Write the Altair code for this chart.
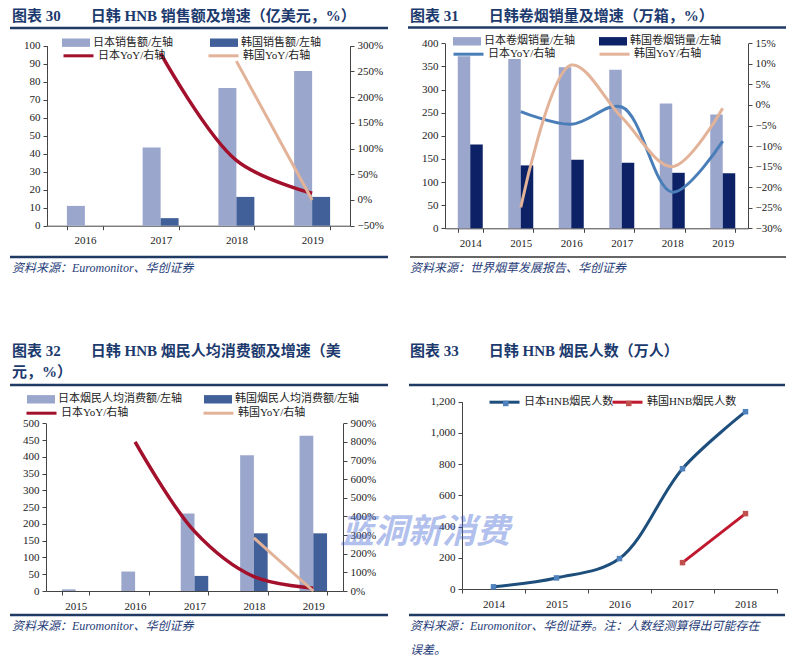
import altair as alt
import pandas as pd

# ---------------- data ----------------
# Figure 30: HNB sales (100m USD) and YoY
p1_years = ["2016", "2017", "2018", "2019"]
p1_jp_sales = [11.0, 43.5, 76.5, 86.0]
p1_kr_sales = [None, 4.2, 16.0, 16.0]
p1_jp_yoy = [None, 2.85, 0.77, 0.13]
p1_kr_yoy = [None, None, 2.70, 0.00]
p1_left_ticks = [0, 10, 20, 30, 40, 50, 60, 70, 80, 90, 100]
p1_right_ticks = [-0.5, 0.0, 0.5, 1.0, 1.5, 2.0, 2.5, 3.0]
p1_labels = ["日本销售额/左轴", "韩国销售额/左轴", "日本YoY/右轴", "韩国YoY/右轴"]

# Figure 31: cigarette volume (10k cases) and YoY
p2_years = ["2014", "2015", "2016", "2017", "2018", "2019"]
p2_jp_vol = [372, 366, 348, 343, 270, 246]
p2_kr_vol = [181, 136, 148, 142, 120, 119]
p2_jp_yoy = [None, -0.016, -0.047, -0.005, -0.212, -0.088]
p2_kr_yoy = [None, -0.249, 0.097, -0.030, -0.150, -0.008]
p2_left_ticks = [0, 50, 100, 150, 200, 250, 300, 350, 400]
p2_right_ticks = [-0.30, -0.25, -0.20, -0.15, -0.10, -0.05, 0.0, 0.05, 0.10, 0.15]
p2_labels = ["日本卷烟销量/左轴", "韩国卷烟销量/左轴", "日本YoY/右轴", "韩国YoY/右轴"]

# Figure 32: HNB spend per user (USD) and YoY
p3_years = ["2015", "2016", "2017", "2018", "2019"]
p3_jp_pc = [5, 58, 231, 405, 463]
p3_kr_pc = [None, None, 45, 172, 172]
p3_jp_yoy = [None, 8.0, 3.2, 0.77, 0.15]
p3_kr_yoy = [None, None, None, 2.85, 0.0]
p3_left_ticks = [0, 50, 100, 150, 200, 250, 300, 350, 400, 450, 500]
p3_right_ticks = [0, 1, 2, 3, 4, 5, 6, 7, 8, 9]
p3_labels = ["日本烟民人均消费额/左轴", "韩国烟民人均消费额/左轴", "日本YoY/右轴", "韩国YoY/右轴"]

# Figure 33: HNB users (10k people)
p4_years = ["2014", "2015", "2016", "2017", "2018"]
p4_jp_users = [14, 71, 195, 771, 1136]
p4_kr_users = [None, None, None, 169, 483]
p4_left_ticks = [0, 200, 400, 600, 800, 1000, 1200]
p4_labels = ["日本HNB烟民人数", "韩国HNB烟民人数"]

titles = [
    "图表 30\u3000\u3000日韩 HNB 销售额及增速（亿美元，%）",
    "图表 31\u3000\u3000日韩卷烟销量及增速（万箱，%）",
    "图表 32\u3000\u3000日韩 HNB 烟民人均消费额及增速（美\n元，%）",
    "图表 33\u3000\u3000日韩 HNB 烟民人数（万人）",
]
sources = [
    "资料来源：Euromonitor、华创证券",
    "资料来源：世界烟草发展报告、华创证券",
    "资料来源：Euromonitor、华创证券",
    "资料来源：Euromonitor、华创证券。注：人数经测算得出可能存在\n误差。",
]
watermark = "蓝洞新消费"

# ---------------- styling / layout ----------------
W, H = 778, 648
FONT = "Liberation Serif, Noto Sans CJK SC"
CJK = "Noto Sans CJK SC"
TITLE_COLOR = "#1c3a6e"
RULE_COLOR = "#1f3b64"
BAR_LIGHT = "#9ba6cd"
BAR_MID = "#41609a"
BAR_DARK = "#0c2166"
RED = "#a2102c"
TAN = "#e2b398"
STEEL = "#4a7eb8"


def frame(years, values, label, country):
    rows = [{"year": y, "value": v, "label": label, "country": country}
            for y, v in zip(years, values) if v is not None]
    return pd.DataFrame(rows)


def legend(x, cy, symbol, size, sw=0.0, hide_label=False):
    side = size ** 0.5
    kw = dict(orient="none", legendX=x, legendY=cy - side / 2, title=None,
              padding=0, symbolType=symbol, symbolSize=size,
              symbolStrokeWidth=sw, labelFont=FONT, labelFontSize=11,
              labelColor="#222222", labelOffset=3, labelLimit=400)
    if hide_label:
        kw["labelExpr"] = "''"
    return alt.Legend(**kw)


RECT = "M-1,-0.3H1V0.3H-1Z"


def x_axis(off):
    return alt.Axis(orient="bottom", offset=off, tickBand="extent", tickSize=4,
                    labelPadding=5, labelAngle=0, grid=False, title=None,
                    labelFont=FONT, labelFontSize=11, labelColor="#222222",
                    domainColor="#444444", tickColor="#444444")


def y_axis(orient, off, ticks, fmt):
    return alt.Axis(orient=orient, offset=off, values=ticks, format=fmt, tickSize=4,
                    labelPadding=3, grid=False, title=None, labelFont=FONT,
                    labelFontSize=11, labelColor="#222222",
                    domainColor="#444444", tickColor="#444444")


def dual_panel(years, jp_bar, kr_bar, jp_line, kr_line, labels, bar_colors, line_colors,
               left_dom, left_ticks, right_dom, right_ticks, right_fmt, g):
    xs = alt.Scale(type="band", domain=years, range=g["xr"], paddingInner=g["pi"],
                   paddingOuter=g["pi"] / 2)
    ysl = alt.Scale(domain=left_dom, range=g["yr"], nice=False, zero=False)
    ysr = alt.Scale(domain=right_dom, range=g["yr"], nice=False, zero=False)
    xo = alt.XOffset("country:N", scale=alt.Scale(domain=["JP", "KR"]))
    xax = x_axis(g["xoff"])
    lax = y_axis("left", g["loff"], left_ticks, ",.0f")
    rax = y_axis("right", g["roff"], right_ticks, right_fmt)

    bars = []
    for i, (vals, ctry) in enumerate([(jp_bar, "JP"), (kr_bar, "KR")]):
        bars.append(
            alt.Chart(frame(years, vals, labels[i], ctry)).mark_bar().encode(
                x=alt.X("year:N", scale=xs, axis=xax),
                xOffset=xo,
                y=alt.Y("value:Q", scale=ysl, axis=lax),
                fill=alt.Fill("label:N", scale=alt.Scale(domain=[labels[i]], range=[bar_colors[i]]),
                              legend=legend(g["leg"][i][0], g["leg"][i][1], RECT, 784)),
            )
        )
    lines = []
    for i, (vals, ctry) in enumerate([(jp_line, "JP"), (kr_line, "KR")]):
        lab = labels[2 + i]
        lines.append(
            alt.Chart(frame(years, vals, lab, ctry)).mark_line(
                interpolate=g["interp"][i], strokeWidth=g["lw"][i]).encode(
                x=alt.X("year:N", scale=xs, axis=xax),
                y=alt.Y("value:Q", scale=ysr, axis=rax),
                stroke=alt.Stroke("label:N", scale=alt.Scale(domain=[lab], range=[line_colors[i]]),
                                  legend=legend(g["leg"][2 + i][0], g["leg"][2 + i][1], "stroke", 900, 3)),
            )
        )
    bar_layer = alt.layer(*bars).resolve_scale(fill="independent")
    line_layer = alt.layer(*lines).resolve_scale(stroke="independent")
    return alt.layer(bar_layer, line_layer).resolve_scale(y="independent")


p1 = dual_panel(
    p1_years, p1_jp_sales, p1_kr_sales, p1_jp_yoy, p1_kr_yoy, p1_labels,
    [BAR_LIGHT, BAR_MID], [RED, TAN], [0, 100], p1_left_ticks, [-0.5, 3.0], p1_right_ticks, ".0%",
    dict(xr=[39, 342], yr=[217.7, 37.7], pi=0.525, xoff=-(H - 217.7), loff=-39, roff=-(W - 342),
         interp=["catmull-rom", "linear"], lw=[3.5, 3],
         leg=[(54, 34.7), (202, 34.7), (54, 46.3), (199, 46.3)]))

p2 = dual_panel(
    p2_years, p2_jp_vol, p2_kr_vol, p2_jp_yoy, p2_kr_yoy, p2_labels,
    [BAR_LIGHT, BAR_DARK], [STEEL, TAN], [0, 400], p2_left_ticks, [-0.30, 0.15], p2_right_ticks, ".0%",
    dict(xr=[437, 740], yr=[220.3, 35.3], pi=0.505, xoff=-(H - 220.3), loff=-437, roff=-(W - 740),
         interp=["catmull-rom", "catmull-rom"], lw=[3, 3],
         leg=[(445, 33.3), (591, 33.3), (444, 44.7), (590, 44.7)]))

p3 = dual_panel(
    p3_years, p3_jp_pc, p3_kr_pc, p3_jp_yoy, p3_kr_yoy, p3_labels,
    [BAR_LIGHT, BAR_MID], [RED, TAN], [0, 500], p3_left_ticks, [0, 9], p3_right_ticks, ".0%",
    dict(xr=[38, 335], yr=[583, 415.3], pi=0.537, xoff=-(H - 583), loff=-38, roff=-(W - 335),
         interp=["catmull-rom", "linear"], lw=[3.5, 3],
         leg=[(19, 391.3), (196, 391.3), (17, 403.7), (194, 403.7)]))

# Figure 33: lines with square markers
xs4 = alt.Scale(type="band", domain=p4_years, range=[454, 769], paddingInner=0, paddingOuter=0)
ys4 = alt.Scale(domain=[0, 1200], range=[581, 393.7], nice=False, zero=False)
xax4 = x_axis(-(H - 581))
yax4 = y_axis("left", -454, p4_left_ticks, ",.0f")
p4_layers = []
for i, (vals, ctry, lc, mc, interp, lx) in enumerate([
        (p4_jp_users, "JP", "#1d4e7c", "#4f81bd", "catmull-rom", 480),
        (p4_kr_users, "KR", "#c0182e", "#c0504d", "linear", 603)]):
    df = frame(p4_years, vals, p4_labels[i], ctry)
    p4_layers.append(
        alt.Chart(df).mark_line(interpolate=interp, strokeWidth=3).encode(
            x=alt.X("year:N", scale=xs4, axis=xax4),
            y=alt.Y("value:Q", scale=ys4, axis=yax4),
            stroke=alt.Stroke("label:N", scale=alt.Scale(domain=[p4_labels[i]], range=[lc]),
                              legend=legend(lx, 392.7, "stroke", 900, 3)),
        ))
    p4_layers.append(
        alt.Chart(df).mark_square(size=30, opacity=1).encode(
            x=alt.X("year:N", scale=xs4, axis=xax4),
            y=alt.Y("value:Q", scale=ys4, axis=yax4),
            fill=alt.Fill("label:N", scale=alt.Scale(domain=[p4_labels[i]], range=[mc]),
                          legend=legend(lx + 15 - 30 ** 0.5 / 2, 392.7, "square", 30, 0, True)),
        ))
p4 = alt.layer(*p4_layers).resolve_scale(stroke="independent", fill="independent")

# ---------------- decorations: headings, rules, sources ----------------
one = pd.DataFrame({"k": [0]})


def text(s, x, y, size, color, weight="normal", style="normal", font=FONT, lh=21, opacity=1.0):
    return alt.Chart(one).mark_text(
        align="left", baseline="top", font=font, fontSize=size, fontWeight=weight,
        fontStyle=style, color=color, lineBreak="\n", lineHeight=lh, opacity=opacity
    ).encode(x=alt.value(x), y=alt.value(y), text=alt.value(s))


def rule(x1, x2, y, w, color):
    return alt.Chart(one).mark_rule(strokeWidth=w, color=color).encode(
        x=alt.value(x1), x2=alt.value(x2), y=alt.value(y))


deco = [
    text(titles[0], 4, 0.5, 15, TITLE_COLOR, "bold"),
    text(titles[1], 402, 0.5, 15, TITLE_COLOR, "bold"),
    text(titles[2], 4, 336, 15, TITLE_COLOR, "bold"),
    text(titles[3], 402, 336, 15, TITLE_COLOR, "bold"),
    rule(2, 380, 20, 2.7, RULE_COLOR),
    rule(400, 779, 19.5, 2.7, RULE_COLOR),
    rule(2, 380, 377, 2.7, RULE_COLOR),
    rule(401, 777, 377, 2.7, RULE_COLOR),
    rule(2, 380, 249, 2.7, RULE_COLOR),
    rule(402, 779, 249, 1.5, "#333333"),
    rule(2, 380, 607, 2.7, RULE_COLOR),
    rule(401, 777, 607, 2.7, RULE_COLOR),
    text(sources[0], 4, 255, 12, "#1f3c78", style="italic"),
    text(sources[1], 402, 255, 12, "#1f3c78", style="italic"),
    text(sources[2], 4, 613, 12, "#1f3c78", style="italic"),
    text(sources[3], 402, 613, 12, "#1f3c78", style="italic", lh=24),
    text(watermark, 332, 508, 34, "#3f63d0", "bold", "italic", CJK, opacity=0.4),
]

chart = alt.layer(p1, p2, p3, p4, *deco).resolve_scale(
    x="independent", y="independent", xOffset="independent",
    fill="independent", stroke="independent"
).properties(
    width=W, height=H, padding=0, autosize=alt.AutoSizeParams(type="none")
).configure_view(stroke=None).configure_axis(grid=False)

chart.save("out.html", embed_options={"renderer": "svg", "actions": False})
